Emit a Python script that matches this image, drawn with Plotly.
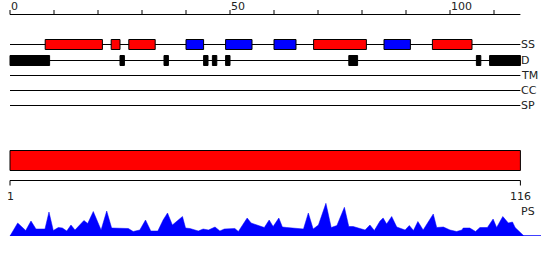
import plotly.graph_objects as go

# ---------------- data ----------------
seq_len = 116
axis_ticks = list(range(0, 111, 10))
axis_labels = [0, 50, 100]

track_names = ["SS", "D", "TM", "CC", "SP"]

helix_segments = [(8, 21), (23, 25), (27, 33), (69, 81), (96, 105)]   # red
strand_segments = [(40, 44), (49, 55), (60, 65), (85, 91)]             # blue
disorder_segments = [(0, 9), (25, 26), (35, 36), (44, 45), (46, 47),
                     (49, 50), (77, 79), (106, 107), (109, 116)]
domain_segments = [(0, 116)]
ruler_labels = ["1", "116"]

profile_pos = [0, 1.75, 3.57, 4.77, 5.9, 7.95, 8.86, 9.84, 10.98, 11.9, 12.9,
               13.86, 14.77, 16.8, 17.66, 18.93, 20.7, 21.98, 23.1, 26.1, 26.9,
               28.0, 29.5, 30.8, 32.0, 33.6, 34.8, 35.8, 36.9, 39.2, 39.9, 40.9,
               42.8, 43.9, 45.1, 46.6, 47.7, 48.7, 51.1, 51.9, 53.9, 54.8, 57.8,
               58.9, 59.8, 61.1, 61.9, 62.9, 65.5, 66.7, 67.8, 68.9, 70.1, 71.8,
               73.0, 74.3, 76.0, 77.0, 78.0, 80.7, 81.8, 82.8, 84.1, 84.8, 85.6,
               86.75, 87.9, 89.8, 90.75, 91.7, 92.7, 93.9, 96.2, 96.98, 98.5,
               100.0, 101.5, 102.7, 103.0, 104.5, 105.8, 106.8, 108.5, 109.8,
               110.6, 112.0, 113.25, 114.2, 114.8, 115.9, 116.7]
profile_val = [0, 13, 5.5, 15, 7, 7, 24, 5.5, 8.5, 8, 5,
               11, 6, 15.5, 12.5, 24.5, 6, 25, 8, 8, 7.5,
               4.5, 6, 16, 5, 5, 16, 23, 11, 19.5, 8, 7.5,
               5, 7, 6, 9, 5, 7, 7.5, 4.5, 18, 13, 8.5,
               16, 9.5, 18, 9, 8.5, 7, 7, 23, 7, 11, 32.7,
               8.5, 10.5, 28.7, 9.5, 9.5, 6, 11, 5.5, 15, 18, 12,
               19.5, 9, 6, 10.5, 5.5, 14.5, 6, 22, 8.5, 9,
               6, 4.5, 6, 8, 8, 4.5, 8.5, 8.5, 17,
               8.5, 19.5, 13, 14, 8.5, 4, 0.5]

# ---------------- layout constants ----------------
W, H = 550, 260
PX_PER_UNIT = 4.4
X0_PX = 10
FONT = dict(family="DejaVu Sans", size=11, color="#222222")
track_y = [44.5, 60.5, 75.5, 90.5, 105.5]

fig = go.Figure()

fig.add_trace(go.Scatter(
    x=profile_pos, y=profile_val, mode="lines", fill="tozeroy",
    fillcolor="#0000ff", line=dict(color="#0000ff", width=0.5),
    xaxis="x", yaxis="y2", hoverinfo="skip", showlegend=False))

shapes = []
annotations = []

# top ruler
shapes.append(dict(type="line", xref="x", yref="y", x0=0, x1=seq_len,
                   y0=14.5, y1=14.5, line=dict(color="black", width=1)))
for t in axis_ticks:
    shapes.append(dict(type="line", xref="x", yref="y", x0=t, x1=t,
                       y0=10, y1=14.5, line=dict(color="black", width=1)))
for t in axis_labels:
    annotations.append(dict(x=t, y=6, xref="x", yref="y", text=str(t),
                            showarrow=False, xanchor="left", yanchor="middle",
                            xshift=-1, font=FONT))

# track lines and labels
for name, ty in zip(track_names, track_y):
    shapes.append(dict(type="line", xref="x", yref="y", x0=0, x1=seq_len,
                       y0=ty, y1=ty, line=dict(color="black", width=1)))
    annotations.append(dict(x=seq_len, y=ty, xref="x", yref="y", text=name,
                            showarrow=False, xanchor="left", yanchor="middle",
                            xshift=-1, font=FONT))

def box(seg, yc, half, fill):
    return dict(type="rect", xref="x", yref="y", x0=seg[0], x1=seg[1],
                y0=yc - half, y1=yc + half, fillcolor=fill,
                line=dict(color="black", width=1), layer="above")

for seg in helix_segments:
    shapes.append(box(seg, track_y[0], 5, "#ff0000"))
for seg in strand_segments:
    shapes.append(box(seg, track_y[0], 5, "#0000ff"))
for seg in disorder_segments:
    shapes.append(box(seg, track_y[1], 5, "#000000"))

# domain bar
for seg in domain_segments:
    shapes.append(dict(type="rect", xref="x", yref="y", x0=seg[0], x1=seg[1],
                       y0=150.5, y1=170.5, fillcolor="#ff0000",
                       line=dict(color="black", width=1)))

# lower ruler
shapes.append(dict(type="line", xref="x", yref="y", x0=0, x1=seq_len,
                   y0=180.5, y1=180.5, line=dict(color="black", width=1)))
for xv in (0, seq_len):
    shapes.append(dict(type="line", xref="x", yref="y", x0=xv, x1=xv,
                       y0=180.5, y1=185.5, line=dict(color="black", width=1)))
annotations.append(dict(x=0, y=196, xref="x", yref="y", text=ruler_labels[0],
                        showarrow=False, xanchor="center", yanchor="middle", font=FONT))
annotations.append(dict(x=seq_len, y=196, xref="x", yref="y", text=ruler_labels[1],
                        showarrow=False, xanchor="center", yanchor="middle", font=FONT))
annotations.append(dict(x=seq_len, y=211, xref="x", yref="y", text="PS",
                        showarrow=False, xanchor="left", yanchor="middle",
                        xshift=-1, font=FONT))

# profile baseline
shapes.append(dict(type="line", xref="x", yref="y2", x0=0, x1=(541 - X0_PX) / PX_PER_UNIT,
                   y0=0, y1=0, line=dict(color="#0000ff", width=1.5)))

fig.update_layout(
    width=W, height=H, margin=dict(l=0, r=0, t=0, b=0),
    paper_bgcolor="white", plot_bgcolor="white",
    xaxis=dict(range=[-X0_PX / PX_PER_UNIT, (W - X0_PX) / PX_PER_UNIT],
               domain=[0, 1], visible=False, fixedrange=True),
    yaxis=dict(range=[H, 0], domain=[0, 1], visible=False, fixedrange=True),
    yaxis2=dict(range=[0, 36], domain=[(H - 236) / H, (H - 200) / H],
                anchor="x", visible=False, fixedrange=True),
    shapes=shapes, annotations=annotations, showlegend=False)

fig.write_html("out.html")
